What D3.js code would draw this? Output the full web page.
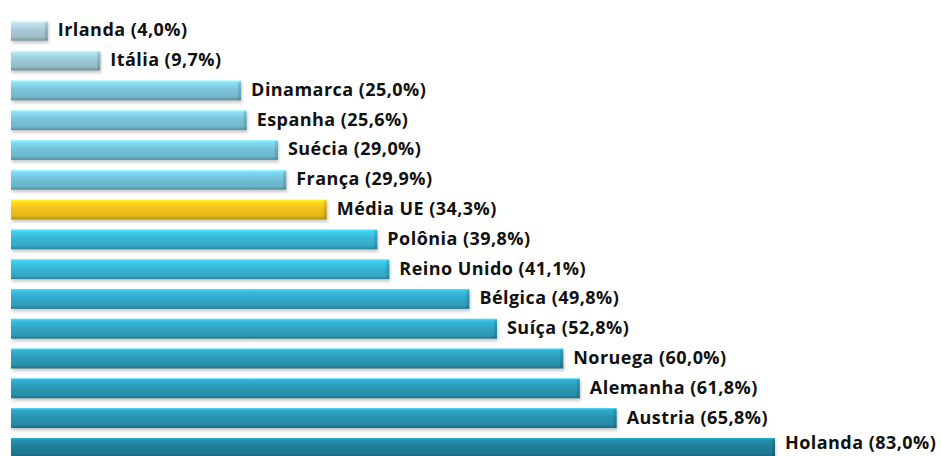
<!DOCTYPE html>
<html lang="pt">
<head>
<meta charset="UTF-8">
<title>Países</title>
<script src="https://d3js.org/d3.v7.min.js"></script>
<style>
  body { margin: 0; background: #fff; }
  svg { display: block; }
  .label { font-family: "Open Sans", Lato, sans-serif; font-weight: bold; font-size: 18px; letter-spacing: 0.45px; fill: #111; }
</style>
</head>
<body>
<svg id="chart"></svg>
<script>
const countries = ["Irlanda", "Itália", "Dinamarca", "Espanha", "Suécia", "França", "Média UE",
  "Polônia", "Reino Unido", "Bélgica", "Suíça", "Noruega", "Alemanha", "Austria", "Holanda"];
const values = [4.0, 9.7, 25.0, 25.6, 29.0, 29.9, 34.3, 39.8, 41.1, 49.8, 52.8, 60.0, 61.8, 65.8, 83.0];
const highlight = "Média UE";

const w = 941, h = 456;
const svg = d3.select("#chart").attr("width", w).attr("height", h);

const x = d3.scaleLinear().domain([0, 83]).range([11, 775]);
const y = d3.scaleBand().domain(countries).range([15.8, 462.8])
  .paddingInner(0.33).paddingOuter(0.165);

// colour goes from pale grey-blue to deep teal with the value
const color = d3.scaleLinear()
  .domain([4, 30, 40, 83])
  .range(["#a9cbd6", "#72c2da", "#38b6d6", "#1f7e98"]);

const data = countries.map((c, i) => ({ name: c, value: values[i] }));
const defs = svg.append("defs");

const blur = defs.append("filter").attr("id", "shadow")
  .attr("x", "-5%").attr("y", "-30%").attr("width", "110%").attr("height", "180%");
blur.append("feGaussianBlur").attr("stdDeviation", 1.5);

data.forEach((d, i) => {
  const base = d.name === highlight ? "#f5c21b" : color(d.value);
  const g = defs.append("linearGradient").attr("id", "g" + i)
    .attr("x1", 0).attr("y1", 0).attr("x2", 0).attr("y2", 1);
  g.append("stop").attr("offset", "0%").attr("stop-color", d3.color(base).brighter(0.9));
  g.append("stop").attr("offset", "12%").attr("stop-color", d3.color(base).brighter(0.35));
  g.append("stop").attr("offset", "45%").attr("stop-color", base);
  g.append("stop").attr("offset", "82%").attr("stop-color", d3.color(base).darker(0.2));
  g.append("stop").attr("offset", "100%").attr("stop-color", d3.color(base).darker(0.9));
});

const rows = svg.selectAll("g.row").data(data).enter().append("g").attr("class", "row");

rows.append("rect")
  .attr("x", x(0) + 1)
  .attr("y", d => y(d.name) + 2.5)
  .attr("width", d => x(d.value) - x(0))
  .attr("height", y.bandwidth())
  .attr("fill", "#888")
  .attr("opacity", 0.45)
  .attr("filter", "url(#shadow)");

rows.append("rect")
  .attr("x", x(0))
  .attr("y", d => y(d.name))
  .attr("width", d => x(d.value) - x(0))
  .attr("height", y.bandwidth())
  .attr("fill", (d, i) => `url(#g${i})`);

// bevel on the right end
rows.append("rect")
  .attr("x", d => x(d.value) - 3)
  .attr("y", d => y(d.name) + 1)
  .attr("width", 3)
  .attr("height", y.bandwidth() - 2)
  .attr("fill", "#000")
  .attr("opacity", 0.12);

// keep the last label inside the frame
rows.append("text")
  .attr("class", "label")
  .attr("x", d => x(d.value) + 10)
  .attr("y", d => Math.min(y(d.name) + y.bandwidth() / 2, h - 12.5))
  .attr("dy", "0.3em")
  .text(d => `${d.name} (${d3.format(".1f")(d.value).replace(".", ",")}%)`);
</script>
</body>
</html>
